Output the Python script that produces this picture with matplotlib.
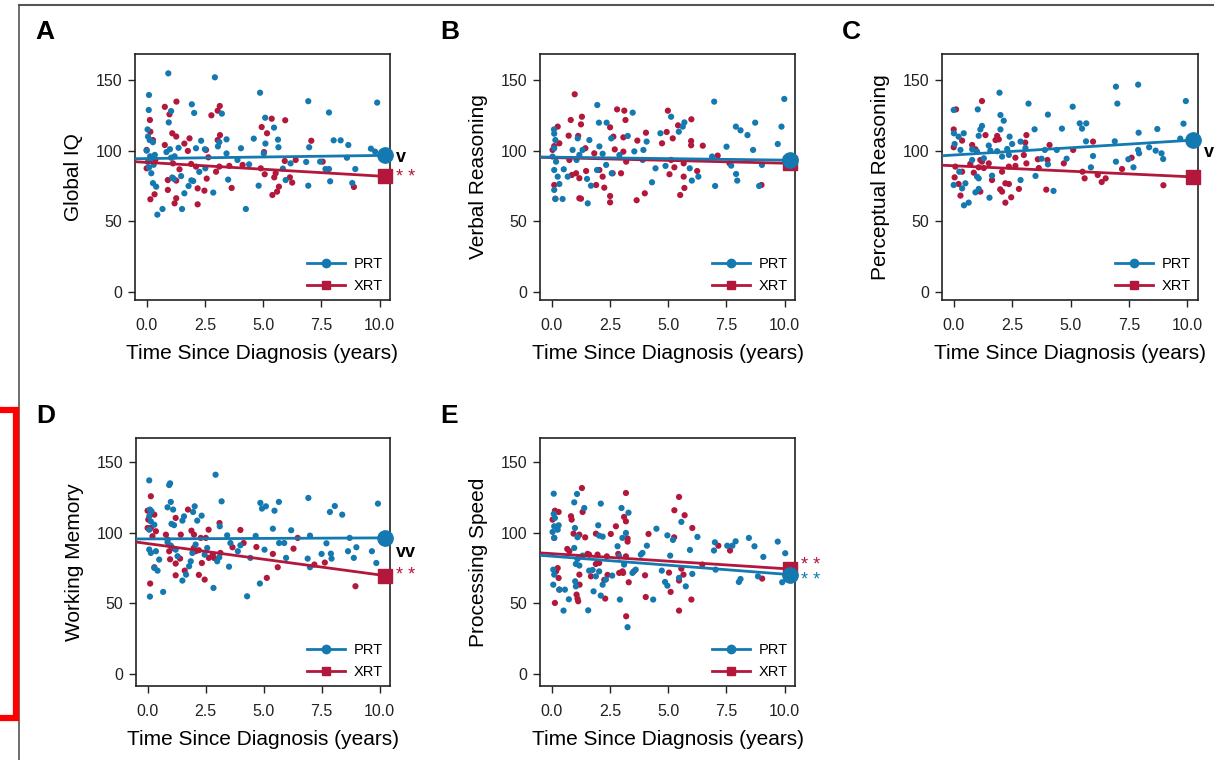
import numpy as np
import matplotlib
matplotlib.use("Agg")
import matplotlib.pyplot as plt
from matplotlib import font_manager
from matplotlib.lines import Line2D
import matplotlib.transforms as mtransforms

# fonts: narrow face for the axis labels if we have it
try:
    font_manager.findfont("Liberation Sans Narrow", fallback_to_default=False)
    narrow = "Liberation Sans Narrow"
    lab_size = 17
except Exception:
    narrow = "Liberation Sans"
    lab_size = 15
plt.rcParams['font.family'] = ['Liberation Sans', 'DejaVu Sans']

BLUE = "#1479B0"
RED = "#B3173B"

# ---------------- data ----------------
# A: Global IQ
gi_prt_x = [0.93, 2.93, 0.10, 4.87, 6.94, 9.90, 0.09, 1.94, 1.05, 2.04, 3.23, 7.83, 0.95, 5.09, 5.47,
            0.04, 0.06, 0.13, 0.27, 3.43, 4.60, 5.64, 5.10, 8.03, 8.33, 8.66, 6.98, 5.66, 9.63, 9.81,
            2.34, 3.12, 3.06, 2.12, 2.50, 1.37, 0.85, 1.00, 1.20, 1.05, 4.05, 3.43, 5.03, 8.60, 3.90,
            4.40, 5.85, 6.18, 6.85, 7.45, 7.68, 7.83, 8.96, 5.97, 7.88, 8.83, 3.50, 4.81, 6.94, 2.86,
            4.26, 0.46, 0.68, 1.52, 1.62, 1.80, 1.92, 2.00, 2.26, 2.52, 1.48, 1.10, 1.17, 0.41, 0.27,
            0.05, 0.10, 0.15, 0.20, 0.00, 0.30, 0.13, 0.35]
gi_prt_y = [154.7, 151.9, 139.4, 141.0, 135.0, 134.0, 128.8, 132.8, 128.0, 126.7, 126.2, 127.0, 120.0, 123.3, 116.3,
            115.0, 110.0, 107.5, 106.0, 108.0, 108.5, 107.8, 105.0, 107.3, 107.3, 104.0, 102.4, 102.4, 101.4, 99.3,
            107.0, 106.0, 103.0, 101.7, 101.0, 102.0, 99.0, 101.0, 96.0, 95.0, 101.7, 98.0, 98.0, 95.0, 93.4,
            90.3, 87.3, 91.0, 92.0, 92.2, 87.0, 87.0, 87.0, 79.2, 78.3, 77.1, 79.5, 75.2, 75.2, 70.3,
            58.7, 54.7, 58.7, 58.7, 69.8, 75.0, 79.0, 78.5, 85.0, 87.5, 82.0, 81.0, 80.0, 74.5, 77.0,
            92.0, 88.0, 96.0, 84.0, 100.0, 90.0, 93.4, 97.0]
gi_xrt_x = [1.28, 0.78, 3.14, 3.05, 2.78, 0.98, 0.14, 5.37, 5.95, 4.94, 5.17, 0.16, 1.10, 1.27, 1.84,
            3.15, 3.05, 7.07, 0.78, 1.62, 2.55, 5.04, 1.77, 2.65, 6.40, 5.93, 7.56, 0.37, 1.13, 1.41,
            1.91, 2.12, 3.12, 3.55, 4.12, 4.90, 5.07, 5.54, 5.48, 6.15, 6.25, 2.98, 2.58, 0.91, 1.27,
            0.00, 5.68, 5.60, 5.40, 3.65, 0.91, 2.19, 2.48, 1.27, 1.20, 2.19, 0.34, 0.16, 8.90, 0.00,
            0.27]
gi_xrt_y = [134.7, 131.0, 131.6, 128.3, 125.0, 125.7, 121.7, 122.6, 121.5, 116.7, 112.3, 113.4, 112.3, 110.0, 108.7,
            111.0, 107.5, 107.0, 104.0, 105.0, 100.5, 99.0, 99.8, 95.3, 93.4, 92.7, 92.2, 93.4, 91.0, 86.8,
            90.6, 88.7, 88.7, 89.2, 89.9, 87.5, 83.3, 84.0, 81.1, 81.1, 77.4, 85.1, 80.2, 79.2, 78.8,
            87.5, 74.5, 71.0, 68.6, 73.6, 72.2, 73.3, 71.7, 66.3, 62.7, 62.0, 69.1, 65.6, 74.3, 100.5,
            107.5]

# B: Verbal Reasoning
vr_prt_x = [6.98, 9.99, 1.96, 3.48, 5.13, 2.03, 2.36, 5.70, 5.63, 5.46, 4.67, 7.91, 8.11, 8.41, 8.74,
            9.87, 0.10, 0.11, 0.16, 1.12, 3.27, 4.08, 2.56, 1.62, 2.05, 2.19, 7.51, 8.65, 9.71, 3.94,
            3.55, 6.89, 7.71, 9.03, 7.92, 7.97, 8.91, 7.02, 5.93, 6.30, 6.02, 4.89, 4.46, 4.31, 0.19,
            0.11, 0.52, 0.26, 0.33, 0.11, 0.16, 0.47, 1.55, 1.52, 1.69, 1.95, 2.34, 2.58, 1.07, 0.90,
            1.33, 1.19, 2.91, 3.91, 0.04, 0.69, 0.11]
vr_prt_y = [134.7, 136.6, 132.3, 126.9, 124.0, 119.8, 119.8, 120.0, 117.0, 113.4, 112.3, 117.0, 114.4, 111.0, 119.8,
            117.0, 115.0, 112.0, 107.5, 108.7, 110.4, 106.4, 108.7, 107.5, 103.0, 97.8, 102.8, 100.5, 104.7, 100.5,
            99.5, 95.8, 89.4, 89.9, 83.5, 78.8, 75.0, 75.0, 87.5, 81.6, 78.8, 89.2, 87.5, 77.6, 92.2,
            86.3, 86.8, 81.6, 76.4, 72.2, 65.8, 65.8, 62.7, 80.0, 75.2, 86.3, 89.9, 84.0, 93.4, 100.5,
            100.5, 97.0, 96.9, 93.4, 95.8, 81.6, 101.7]
vr_xrt_x = [0.99, 2.81, 3.12, 4.99, 6.00, 0.82, 1.30, 1.26, 3.17, 2.51, 0.26, 5.43, 4.94, 4.05, 0.73,
            1.14, 2.65, 3.08, 5.20, 5.99, 4.74, 3.68, 6.49, 5.99, 0.33, 0.11, 0.04, 1.45, 1.83, 2.71,
            3.08, 3.20, 7.13, 7.64, 5.13, 5.67, 5.27, 5.06, 6.25, 5.67, 5.70, 5.52, 4.00, 3.65, 2.51,
            2.51, 1.19, 1.26, 0.16, 0.11, 0.87, 1.05, 1.19, 1.48, 1.91, 2.26, 2.19, 2.62, 2.98, 2.05,
            0.76, 9.01]
vr_xrt_y = [139.9, 129.2, 128.3, 128.3, 122.2, 121.7, 124.0, 118.6, 121.7, 116.5, 117.0, 117.9, 113.2, 112.7, 110.6,
            110.4, 109.9, 109.4, 108.7, 106.8, 105.2, 107.1, 103.5, 103.8, 105.2, 103.2, 100.5, 101.7, 98.1, 100.9,
            99.3, 92.2, 96.5, 91.0, 93.4, 91.0, 88.2, 83.3, 85.6, 81.6, 73.6, 68.6, 69.8, 64.9, 67.9,
            63.4, 66.3, 66.0, 66.0, 75.7, 82.8, 84.0, 80.5, 85.6, 75.7, 73.8, 81.6, 84.0, 84.0, 86.3,
            93.4, 75.7]

# C: Perceptual Reasoning
pr_prt_x = [6.94, 7.89, 1.96, 7.00, 9.93, 3.20, 5.09, 0.00, 1.03, 2.00, 4.03, 2.14, 5.39, 5.67, 5.49,
            4.63, 3.46, 9.83, 8.71, 7.91, 1.21, 1.14, 1.07, 0.01, 0.43, 0.21, 2.00, 2.39, 2.86, 2.50,
            5.66, 6.89, 9.69, 0.04, 0.29, 0.79, 1.00, 1.50, 1.57, 1.86, 2.29, 3.07, 4.41, 3.90, 7.89,
            8.36, 8.64, 8.89, 7.93, 8.96, 5.96, 4.83, 3.76, 7.47, 6.94, 7.69, 5.87, 4.03, 3.50, 2.86,
            1.64, 1.00, 1.07, 0.24, 0.50, 0.00, 0.36, 1.07, 0.93, 1.53, 0.64, 0.44, 4.27, 0.79, 2.07,
            2.36, 1.29]
pr_prt_y = [145.3, 146.7, 141.0, 133.3, 135.1, 133.3, 131.1, 128.8, 129.2, 125.2, 125.5, 121.2, 119.3, 119.3, 115.6,
            115.6, 115.1, 119.1, 115.3, 112.7, 117.5, 115.0, 110.5, 112.3, 112.3, 109.9, 115.0, 109.9, 106.4, 104.7,
            106.6, 106.6, 108.5, 104.7, 100.5, 101.0, 99.3, 103.6, 100.0, 99.6, 101.2, 101.9, 100.5, 100.5, 100.5,
            102.4, 100.0, 98.1, 98.1, 94.1, 96.2, 94.3, 94.3, 93.9, 92.2, 88.2, 88.2, 90.3, 82.1, 79.2,
            82.3, 81.6, 80.4, 85.1, 76.9, 75.7, 73.3, 72.9, 70.5, 66.7, 63.2, 61.3, 71.5, 93.4, 95.8,
            97.0, 94.6]
pr_xrt_x = [1.21, 0.10, 0.00, 1.36, 1.86, 1.93, 1.79, 3.11, 3.06, 0.36, 0.79, 0.93, 0.00, 4.10, 5.96,
            5.11, 1.14, 1.21, 1.50, 3.00, 2.64, 3.60, 4.01, 3.11, 2.64, 2.36, 3.64, 4.71, 5.51, 5.60,
            6.16, 6.33, 6.50, 7.20, 7.61, 8.97, 0.71, 1.07, 1.29, 0.07, 0.36, 0.04, 0.21, 0.86, 2.07,
            2.21, 2.36, 2.79, 1.99, 2.07, 2.46, 2.21, 1.14, 3.96, 0.29, 1.64]
pr_xrt_y = [135.1, 129.2, 115.0, 111.0, 110.4, 108.0, 107.5, 111.0, 105.7, 107.1, 104.0, 101.0, 102.4, 104.0, 106.4,
            100.5, 93.4, 92.2, 91.0, 96.9, 95.0, 93.9, 93.4, 91.0, 89.2, 88.7, 87.7, 91.0, 85.1, 80.4,
            82.8, 77.8, 80.4, 87.0, 95.0, 75.5, 90.6, 88.2, 87.7, 88.7, 85.1, 81.1, 76.4, 84.4, 85.1,
            76.9, 76.4, 72.9, 72.6, 71.0, 67.0, 63.2, 71.0, 72.4, 68.2, 79.2]

# D: Working Memory
wm_prt_x = [2.93, 0.07, 0.93, 0.97, 3.19, 1.00, 6.93, 4.86, 5.10, 4.93, 5.66, 5.47, 9.93, 8.07, 7.86,
            8.39, 0.86, 1.10, 2.03, 1.96, 1.57, 1.50, 1.03, 1.14, 2.33, 2.14, 0.10, 0.17, 0.07, 0.14,
            0.29, 0.07, 3.11, 5.40, 6.19, 4.66, 7.00, 3.43, 8.71, 7.71, 9.00, 9.67, 8.64, 7.90, 7.50,
            8.89, 9.86, 7.93, 6.90, 7.00, 5.97, 5.67, 5.89, 5.04, 4.43, 3.89, 4.00, 3.57, 3.09, 3.51,
            3.00, 2.57, 2.46, 2.07, 1.93, 1.86, 1.79, 1.66, 1.50, 2.84, 4.84, 4.29, 0.67, 0.10, 0.29,
            0.43, 0.50, 0.14, 0.07, 0.36, 1.21, 1.29, 1.00, 0.86]
wm_prt_y = [140.8, 136.8, 133.5, 134.7, 122.0, 121.6, 124.4, 120.9, 118.5, 116.9, 121.6, 115.4, 120.4, 118.7, 114.5,
            112.6, 117.8, 116.2, 118.5, 114.5, 111.4, 108.4, 106.1, 105.2, 111.9, 108.4, 116.2, 115.0, 111.4, 107.8,
            105.5, 102.0, 104.4, 102.7, 101.6, 97.6, 97.8, 98.0, 96.2, 92.4, 89.6, 86.8, 86.8, 85.1, 84.9,
            82.1, 78.5, 81.6, 81.6, 75.5, 82.1, 92.6, 92.6, 87.9, 82.1, 86.8, 91.0, 92.6, 82.5, 75.9,
            79.7, 89.1, 84.4, 91.5, 85.6, 79.7, 76.2, 70.3, 66.1, 60.9, 64.0, 55.0, 58.1, 54.8, 75.0,
            73.1, 80.9, 85.6, 88.0, 86.8, 87.9, 83.3, 90.8, 93.1]
wm_xrt_x = [0.14, 0.00, 0.03, 0.00, 0.29, 1.74, 1.21, 3.10, 2.63, 4.00, 1.89, 2.00, 2.29, 2.51, 0.79,
            1.43, 0.14, 0.36, 0.21, 6.47, 4.14, 3.66, 4.69, 6.29, 5.40, 2.64, 2.86, 1.40, 0.97, 2.34,
            1.21, 5.61, 7.19, 7.64, 0.29, 1.60, 1.21, 2.21, 2.46, 5.14, 0.11, 8.96, 0.86, 1.07, 0.93,
            1.99, 2.07, 2.21, 3.14, 2.81]
wm_xrt_y = [125.6, 115.4, 109.1, 103.2, 112.6, 116.2, 110.3, 106.7, 102.0, 101.8, 101.3, 98.5, 96.2, 96.2, 98.5,
            98.5, 103.2, 100.9, 97.4, 96.2, 92.6, 89.6, 89.8, 88.6, 84.9, 82.1, 82.1, 81.6, 81.1, 78.5,
            78.1, 75.5, 77.4, 78.8, 75.5, 73.1, 69.8, 70.1, 66.8, 68.0, 64.0, 62.1, 95.0, 89.1, 86.8,
            89.1, 86.8, 87.5, 85.6, 84.4]

# E: Processing Speed
ps_prt_x = [0.09, 1.09, 0.97, 1.40, 2.11, 3.00, 3.30, 5.57, 0.09, 0.14, 0.11, 0.30, 0.26, 0.04, 0.11,
            2.00, 3.19, 4.50, 4.97, 5.21, 6.26, 1.00, 1.11, 2.04, 2.19, 8.47, 7.90, 7.54, 7.76, 7.01,
            8.71, 9.71, 10.03, 9.09, 6.97, 5.94, 4.09, 3.90, 3.83, 5.09, 7.04, 6.04, 8.04, 8.11, 8.86,
            9.90, 4.73, 4.87, 4.97, 5.76, 5.47, 4.36, 2.93, 3.26, 1.57, 0.51, 0.74, 0.33, 0.57, 0.07,
            0.07, 0.11, 1.01, 1.04, 1.80, 2.11, 1.90, 2.04, 2.33, 2.19, 1.19, 1.04, 1.11, 1.33, 1.61,
            1.76, 2.60, 2.90, 3.11, 3.47, 3.61, 2.83, 3.04, 0.97]
ps_prt_y = [127.4, 127.2, 121.3, 117.3, 120.4, 117.3, 114.0, 107.5, 113.1, 110.3, 104.4, 105.1, 102.0, 100.4, 96.2,
            105.1, 99.7, 102.7, 98.0, 94.8, 96.9, 103.2, 96.7, 97.8, 97.1, 96.2, 93.8, 90.7, 90.7, 93.1,
            90.3, 93.6, 85.4, 82.8, 87.3, 87.7, 90.7, 85.6, 84.4, 83.7, 73.8, 70.8, 65.1, 67.2, 69.1,
            64.9, 73.1, 65.1, 62.5, 62.0, 68.0, 52.7, 52.7, 33.2, 45.1, 44.9, 52.9, 59.7, 59.7, 63.2,
            73.8, 70.3, 65.6, 62.0, 58.5, 55.5, 69.1, 72.6, 66.8, 63.2, 76.7, 77.8, 81.3, 83.7, 73.1,
            73.6, 69.6, 83.2, 77.4, 71.5, 73.8, 90.3, 96.2, 89.1]
ps_xrt_x = [1.30, 3.19, 5.47, 0.14, 0.30, 1.33, 0.83, 0.86, 3.11, 3.19, 5.27, 5.71, 6.04, 2.76, 2.54,
            1.90, 1.19, 1.44, 0.94, 0.04, 0.11, 4.16, 5.26, 3.26, 3.26, 7.16, 7.66, 6.47, 0.67, 0.76,
            1.54, 1.61, 1.97, 2.37, 2.86, 3.19, 1.90, 2.04, 4.01, 3.04, 3.07, 2.90, 3.53, 5.04, 5.57,
            5.66, 5.47, 3.31, 2.40, 2.26, 1.69, 1.19, 1.20, 1.07, 1.14, 1.11, 0.14, 0.33, 0.30, 0.26,
            0.19, 5.11, 6.00, 4.04, 5.47, 3.20, 2.30, 9.04]
ps_xrt_y = [131.4, 127.9, 125.1, 115.4, 114.5, 114.5, 111.5, 109.1, 111.0, 107.9, 115.7, 112.2, 103.2, 104.4, 99.0,
            99.2, 98.5, 96.6, 99.2, 109.1, 96.2, 99.0, 96.6, 95.8, 93.6, 90.7, 87.3, 77.4, 88.4, 86.8,
            84.9, 84.4, 84.4, 83.2, 84.9, 83.2, 77.8, 78.5, 69.8, 72.6, 71.5, 71.5, 72.6, 71.7, 74.5,
            70.3, 66.1, 64.9, 70.1, 66.6, 69.1, 70.3, 63.2, 56.2, 51.5, 53.4, 50.3, 59.7, 67.9, 74.9,
            72.6, 58.1, 52.7, 54.5, 44.9, 40.9, 53.4, 67.5]

# fitted lines: (intercept, slope) per group
prt_fit = {"A": (94.4, 0.22), "B": (95.4, -0.21), "C": (96.9, 1.03), "D": (95.5, 0.07), "E": (83.3, -1.27)}
xrt_fit = {"A": (91.7, -0.97), "B": (95.1, -0.40), "C": (89.3, -0.77), "D": (92.2, -2.21), "E": (85.1, -1.06)}

ylabels = {"A": "Global IQ", "B": "Verbal Reasoning", "C": "Perceptual Reasoning",
           "D": "Working Memory", "E": "Processing Speed"}
xticks = [0.0, 2.5, 5.0, 7.5, 10.0]
yticks = [0, 50, 100, 150]

# significance marks next to the line ends: (text, y, colour)
marks = {
    "A": [("v", 94.8, "black"), ("* *", 80.7, RED)],
    "C": [("v", 98.4, "black")],
    "D": [("vv", 85.6, "black"), ("* *", 69.5, RED)],
    "E": [("* *", 76.4, RED), ("* *", 65.8, BLUE)],
}

# ---------------- figure ----------------
W, H = 1214, 760
fig = plt.figure(figsize=(W / 100, H / 100), dpi=100)

def px_rect(l, t, r, b):
    return [l / W, 1 - b / H, (r - l) / W, (b - t) / H]

boxes = {"A": (135, 54, 390, 300), "B": (540, 54, 795, 300), "C": (942, 54, 1198, 300),
         "D": (136, 438, 390, 686), "E": (540, 438, 795, 686)}
ylims = {"A": (-5.7, 168.4), "B": (-5.7, 168.4), "C": (-5.7, 168.4), "D": (-8.3, 166.7), "E": (-8.3, 166.7)}

data = {
    "A": (gi_prt_x, gi_prt_y, gi_xrt_x, gi_xrt_y),
    "B": (vr_prt_x, vr_prt_y, vr_xrt_x, vr_xrt_y),
    "C": (pr_prt_x, pr_prt_y, pr_xrt_x, pr_xrt_y),
    "D": (wm_prt_x, wm_prt_y, wm_xrt_x, wm_xrt_y),
    "E": (ps_prt_x, ps_prt_y, ps_xrt_x, ps_xrt_y),
}

x0, x1 = -0.5, 10.45
xend = 10.22

for key, box in boxes.items():
    ax = fig.add_axes(px_rect(*box))
    px_, py_, rx_, ry_ = data[key]
    ax.scatter(rx_, ry_, s=20, color=RED, edgecolors='none', zorder=2)
    ax.scatter(px_, py_, s=20, color=BLUE, edgecolors='none', zorder=3)

    xs = np.array([x0, xend])
    b0, b1 = xrt_fit[key]
    ax.plot(xs, b0 + b1 * xs, color=RED, lw=2, zorder=4, solid_capstyle='butt')
    ax.plot([xend], [b0 + b1 * xend], marker='s', ms=10, color=RED, zorder=5, clip_on=False)
    b0, b1 = prt_fit[key]
    ax.plot(xs, b0 + b1 * xs, color=BLUE, lw=2, zorder=4, solid_capstyle='butt')
    ax.plot([xend], [b0 + b1 * xend], marker='o', ms=11, color=BLUE, zorder=6, clip_on=False)

    ax.set_xlim(x0, x1)
    ax.set_ylim(*ylims[key])
    ax.set_xticks(xticks)
    ax.set_xticklabels([f"{t:.1f}" for t in xticks])
    ax.set_yticks(yticks)
    ax.tick_params(direction='out', length=5, width=1, labelsize=11.5, colors='#222222')
    ax.tick_params(axis='x', pad=8)
    ax.tick_params(axis='y', pad=4)
    for sp in ax.spines.values():
        sp.set_linewidth(1.2)
        sp.set_color('#222222')

    ax.set_xlabel("Time Since Diagnosis (years)", fontsize=lab_size, family=narrow, labelpad=8)
    ax.set_ylabel(ylabels[key], fontsize=lab_size, family=narrow, labelpad=9)

    handles = [Line2D([0], [0], color=BLUE, lw=2, marker='o', ms=6),
               Line2D([0], [0], color=RED, lw=2, marker='s', ms=6)]
    ax.legend(handles, ["PRT", "XRT"], loc='lower right', frameon=False, fontsize=10.5,
              handlelength=2.6, handletextpad=0.6, labelspacing=0.55, borderaxespad=0.1)

    trans = mtransforms.blended_transform_factory(ax.transAxes, ax.transData)
    for txt, yv, col in marks.get(key, []):
        bold = 'bold' if col == 'black' else 'normal'
        ax.text(1.025, yv, txt, transform=trans, ha='left', va='center', color=col,
                fontsize=13, fontweight=bold, clip_on=False)

    l, t, r, b = box
    fig.text((l - 100) / W, 1 - (t - 22) / H, key, fontsize=19, fontweight='bold',
             ha='left', va='center')

# page frame and red bracket
fig.add_artist(Line2D([19 / W, 19 / W], [0, 1 - 5 / H], color='#555555', lw=1.2))
fig.add_artist(Line2D([19 / W, 1], [1 - 5 / H, 1 - 5 / H], color='#555555', lw=1.5))
fig.add_artist(Line2D([0, 16 / W, 16 / W, 0], [1 - 410 / H, 1 - 410 / H, 1 - 718 / H, 1 - 718 / H],
                      color='#FF0000', lw=4.5, solid_joinstyle='miter'))

fig.savefig("out.png", dpi=100)
